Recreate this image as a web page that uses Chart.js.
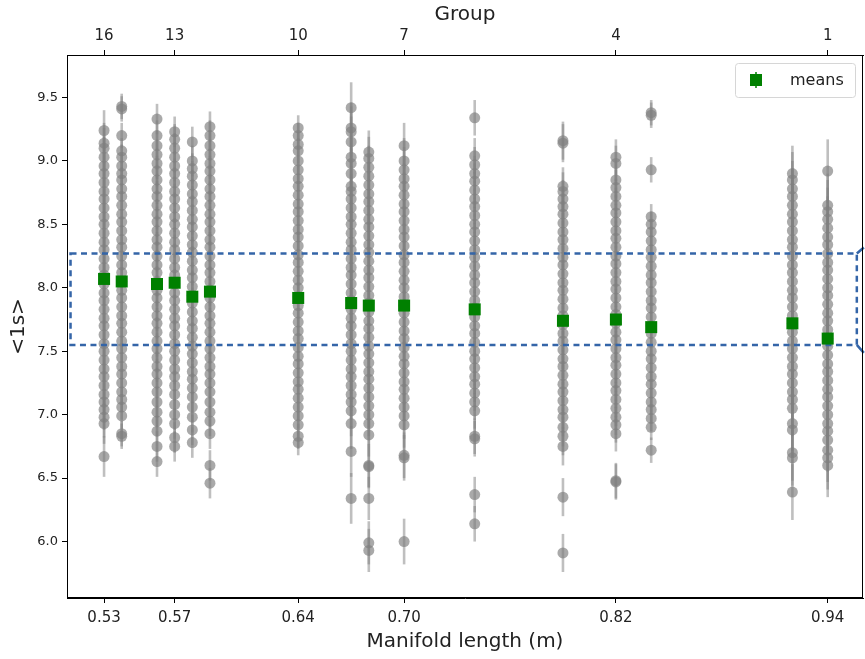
<!DOCTYPE html>
<html>
<head>
<meta charset="utf-8">
<script src="https://cdn.jsdelivr.net/npm/chart.js@4.4.0/dist/chart.umd.min.js"></script>
<style>
  html, body { margin: 0; padding: 0; background: #fff; }
  #wrap { width: 865px; height: 659px; }
</style>
</head>
<body>
<div id="wrap"><canvas id="c" width="865" height="659"></canvas></div>
<script>
// one entry per group, group 16 (shortest manifold) first
const groups  = [16, 15, 14, 13, 12, 11, 10, 9, 8, 7, 6, 5, 4, 3, 2, 1];
const lengths = [0.53, 0.54, 0.56, 0.57, 0.58, 0.59, 0.64, 0.67, 0.68, 0.70, 0.74, 0.79, 0.82, 0.84, 0.92, 0.94];
const means   = [8.07, 8.05, 8.03, 8.04, 7.93, 7.97, 7.92, 7.88, 7.86, 7.86, 7.83, 7.74, 7.75, 7.69, 7.72, 7.60];
const errs    = [0.16, 0.10, 0.12, 0.12, 0.12, 0.12, 0.10, 0.20, 0.17, 0.18, 0.14, 0.15, 0.14, 0.10, 0.22, 0.25];

// individual <1s> values per group
const g16 = [9.24, 9.14, 9.10, 9.03, 8.96, 8.90, 8.83, 8.76, 8.70, 8.63, 8.56, 8.50, 8.43, 8.36, 8.30, 8.23, 8.16, 8.10, 8.03, 7.96, 7.90, 7.83, 7.76, 7.70, 7.63, 7.56, 7.50, 7.43, 7.36, 7.30, 7.23, 7.16, 7.10, 7.04, 6.98, 6.93, 6.67];
const g15 = [9.43, 9.41, 9.20, 9.08, 9.03, 8.96, 8.90, 8.85, 8.78, 8.72, 8.65, 8.58, 8.52, 8.45, 8.38, 8.32, 8.25, 8.18, 8.12, 8.05, 7.98, 7.92, 7.85, 7.78, 7.72, 7.65, 7.58, 7.52, 7.45, 7.38, 7.32, 7.25, 7.18, 7.12, 7.06, 6.99, 6.85, 6.83];
const g14 = [9.33, 9.20, 9.12, 9.05, 8.98, 8.92, 8.85, 8.78, 8.72, 8.65, 8.58, 8.52, 8.45, 8.38, 8.32, 8.25, 8.18, 8.12, 8.05, 7.98, 7.92, 7.85, 7.78, 7.72, 7.65, 7.58, 7.52, 7.45, 7.38, 7.32, 7.25, 7.18, 7.10, 7.02, 6.95, 6.87, 6.75, 6.63];
const g13 = [9.23, 9.17, 9.10, 9.03, 8.96, 8.90, 8.83, 8.76, 8.70, 8.63, 8.56, 8.50, 8.43, 8.36, 8.30, 8.23, 8.16, 8.10, 8.03, 7.96, 7.90, 7.83, 7.76, 7.70, 7.63, 7.56, 7.50, 7.43, 7.36, 7.30, 7.23, 7.16, 7.08, 7.00, 6.93, 6.82, 6.75];
const g12 = [9.15, 9.00, 8.94, 8.88, 8.81, 8.74, 8.68, 8.61, 8.54, 8.48, 8.41, 8.34, 8.28, 8.21, 8.14, 8.08, 8.01, 7.94, 7.88, 7.81, 7.74, 7.68, 7.61, 7.54, 7.48, 7.41, 7.34, 7.28, 7.21, 7.14, 7.06, 6.98, 6.88, 6.78];
const g11 = [9.27, 9.20, 9.12, 9.05, 8.98, 8.92, 8.85, 8.78, 8.72, 8.65, 8.58, 8.52, 8.45, 8.38, 8.32, 8.25, 8.18, 8.12, 8.05, 7.98, 7.92, 7.85, 7.78, 7.72, 7.65, 7.58, 7.52, 7.45, 7.38, 7.32, 7.25, 7.18, 7.10, 7.02, 6.95, 6.85, 6.60, 6.46];
const g10 = [9.26, 9.20, 9.13, 9.08, 9.00, 8.93, 8.86, 8.80, 8.73, 8.66, 8.60, 8.53, 8.46, 8.40, 8.33, 8.26, 8.20, 8.13, 8.06, 8.00, 7.93, 7.86, 7.80, 7.73, 7.66, 7.60, 7.53, 7.46, 7.40, 7.33, 7.26, 7.20, 7.13, 7.06, 6.99, 6.92, 6.83, 6.78];
const g9  = [9.42, 9.26, 9.23, 9.15, 9.03, 8.98, 8.90, 8.80, 8.76, 8.70, 8.63, 8.56, 8.50, 8.43, 8.36, 8.30, 8.23, 8.16, 8.10, 8.03, 7.96, 7.90, 7.83, 7.76, 7.70, 7.63, 7.56, 7.50, 7.43, 7.36, 7.30, 7.23, 7.16, 7.10, 7.03, 6.93, 6.71, 6.34];
const g8  = [9.07, 9.02, 8.95, 8.88, 8.81, 8.74, 8.68, 8.61, 8.54, 8.48, 8.41, 8.34, 8.28, 8.21, 8.14, 8.08, 8.01, 7.94, 7.88, 7.81, 7.74, 7.68, 7.61, 7.54, 7.48, 7.41, 7.34, 7.28, 7.21, 7.14, 7.07, 7.00, 6.93, 6.84, 6.60, 6.59, 6.34, 5.99, 5.93];
const g7  = [9.12, 9.00, 8.93, 8.86, 8.80, 8.73, 8.66, 8.60, 8.53, 8.46, 8.40, 8.33, 8.26, 8.20, 8.13, 8.06, 8.00, 7.93, 7.86, 7.80, 7.73, 7.66, 7.60, 7.53, 7.46, 7.40, 7.33, 7.26, 7.20, 7.13, 7.06, 6.99, 6.92, 6.68, 6.66, 6.00];
const g6  = [9.34, 9.04, 8.97, 8.90, 8.84, 8.77, 8.70, 8.64, 8.57, 8.50, 8.44, 8.37, 8.30, 8.24, 8.17, 8.10, 8.04, 7.97, 7.90, 7.84, 7.77, 7.70, 7.64, 7.57, 7.50, 7.44, 7.37, 7.30, 7.24, 7.17, 7.10, 7.03, 6.83, 6.81, 6.37, 6.14];
const g5  = [9.16, 9.14, 8.80, 8.76, 8.70, 8.64, 8.58, 8.51, 8.44, 8.38, 8.31, 8.24, 8.18, 8.11, 8.04, 7.98, 7.91, 7.84, 7.78, 7.71, 7.64, 7.58, 7.51, 7.44, 7.38, 7.31, 7.24, 7.18, 7.11, 7.04, 6.98, 6.90, 6.83, 6.75, 6.35, 5.91];
const g4  = [9.03, 8.98, 8.85, 8.79, 8.72, 8.65, 8.59, 8.52, 8.45, 8.39, 8.32, 8.25, 8.19, 8.12, 8.05, 7.99, 7.92, 7.85, 7.79, 7.72, 7.65, 7.59, 7.52, 7.45, 7.39, 7.32, 7.25, 7.19, 7.12, 7.05, 6.98, 6.92, 6.85, 6.48, 6.47];
const g3  = [9.38, 9.36, 8.93, 8.56, 8.50, 8.44, 8.37, 8.30, 8.24, 8.17, 8.10, 8.04, 7.97, 7.90, 7.84, 7.77, 7.70, 7.64, 7.57, 7.50, 7.44, 7.37, 7.30, 7.24, 7.17, 7.10, 7.04, 6.97, 6.90, 6.72];
const g2  = [8.90, 8.85, 8.78, 8.72, 8.65, 8.58, 8.52, 8.45, 8.38, 8.32, 8.25, 8.18, 8.12, 8.05, 7.98, 7.92, 7.85, 7.78, 7.72, 7.65, 7.58, 7.52, 7.45, 7.38, 7.32, 7.25, 7.18, 7.12, 7.05, 6.93, 6.88, 6.70, 6.66, 6.39];
const g1  = [8.92, 8.65, 8.60, 8.54, 8.47, 8.40, 8.34, 8.27, 8.20, 8.14, 8.07, 8.00, 7.94, 7.87, 7.80, 7.74, 7.67, 7.60, 7.54, 7.47, 7.40, 7.34, 7.27, 7.20, 7.14, 7.07, 7.00, 6.93, 6.87, 6.80, 6.72, 6.66, 6.60];
const groupSamples = [g16, g15, g14, g13, g12, g11, g10, g9, g8, g7, g6, g5, g4, g3, g2, g1];

// axis ticks
const lengthTicks = [0.53, 0.57, 0.64, 0.70, 0.82, 0.94];
const groupTicks  = ['16', '13', '10', '7', '4', '1'];
const yTicks      = [6.0, 6.5, 7.0, 7.5, 8.0, 8.5, 9.0, 9.5];

// highlighted band
const bandY = [7.55, 8.27];
const bandX = [0.511, 0.9565];

const samplePoints = [];
groupSamples.forEach((vals, i) => {
    vals.forEach(v => samplePoints.push({ x: lengths[i], y: v, e: errs[i] }));
});
const meanPoints = lengths.map((l, i) => ({ x: l, y: means[i] }));

const FONT = 'DejaVu Sans';
const TXT = '#222';

const errorBars = {
    id: 'errorBars',
    beforeDatasetDraw(chart, args) {
        if (args.index !== 0) return;
        const { ctx, scales: { x, y } } = chart;
        const data = chart.data.datasets[0].data;
        ctx.save();
        ctx.strokeStyle = 'rgba(128,128,128,0.5)';
        ctx.lineWidth = 2.6;
        data.forEach(d => {
            const px = x.getPixelForValue(d.x);
            ctx.beginPath();
            ctx.moveTo(px, y.getPixelForValue(d.y - d.e));
            ctx.lineTo(px, y.getPixelForValue(d.y + d.e));
            ctx.stroke();
        });
        ctx.restore();
    },
    afterDatasetDraw(chart, args) {
        if (args.index !== 0) return;
        const { ctx, scales: { x, y } } = chart;
        const x0 = x.getPixelForValue(bandX[0]), x1 = x.getPixelForValue(bandX[1]);
        const y0 = y.getPixelForValue(bandY[1]), y1 = y.getPixelForValue(bandY[0]);
        ctx.save();
        ctx.strokeStyle = '#3465a8';
        ctx.lineWidth = 2.5;
        ctx.setLineDash([6, 4.5]);
        ctx.strokeRect(x0, y0, x1 - x0, y1 - y0);
        ctx.setLineDash([]);
        ctx.beginPath();
        ctx.moveTo(x1, y0); ctx.lineTo(x1 + 7, y0 - 6);
        ctx.moveTo(x1, y1); ctx.lineTo(x1 + 7, y1 + 8);
        ctx.stroke();
        ctx.restore();
    }
};

const frameAndLegend = {
    id: 'frameAndLegend',
    afterDraw(chart) {
        const { ctx, chartArea: a } = chart;
        ctx.save();
        ctx.strokeStyle = '#000';
        ctx.lineWidth = 1;
        ctx.strokeRect(Math.round(a.left) + 0.5, Math.round(a.top) + 0.5,
                       Math.round(a.right - a.left) - 1, Math.round(a.bottom - a.top) - 1);

        // legend box
        const bx = a.right - 128, by = a.top + 8, bw = 120, bh = 34;
        ctx.beginPath();
        ctx.roundRect(bx + 0.5, by + 0.5, bw, bh, 3);
        ctx.fillStyle = 'rgba(255,255,255,0.8)';
        ctx.fill();
        ctx.strokeStyle = '#d6d6d6';
        ctx.stroke();
        const mx = bx + 21, my = by + bh / 2;
        ctx.strokeStyle = '#008000';
        ctx.lineWidth = 1.5;
        ctx.beginPath();
        ctx.moveTo(mx, my - 8); ctx.lineTo(mx, my + 8);
        ctx.stroke();
        ctx.fillStyle = '#008000';
        ctx.fillRect(mx - 6, my - 6, 12, 12);
        ctx.fillStyle = TXT;
        ctx.font = '16px "' + FONT + '"';
        ctx.textBaseline = 'middle';
        ctx.fillText(chart.data.datasets[1].label, bx + 55, my + 1);
        ctx.restore();
    }
};

const axisGrid = { display: true, drawOnChartArea: false, drawTicks: true, tickLength: 5, color: '#000', lineWidth: 1 };
const noSidePad = s => { s.paddingLeft = 0; s.paddingRight = 0; };

new Chart(document.getElementById('c'), {
    type: 'scatter',
    data: {
        datasets: [
            {
                label: 'samples',
                data: samplePoints,
                pointRadius: 5.5,
                pointBorderWidth: 0,
                pointBackgroundColor: 'rgba(128,128,128,0.68)',
                order: 2
            },
            {
                label: 'means',
                data: meanPoints,
                pointStyle: 'rect',
                pointRadius: 8.5,
                pointBorderWidth: 0,
                pointBackgroundColor: '#008000',
                order: 1
            }
        ]
    },
    options: {
        responsive: false,
        animation: false,
        devicePixelRatio: 1,
        layout: { autoPadding: false, padding: { left: 0, right: 2, top: 0, bottom: 0 } },
        plugins: { legend: { display: false }, tooltip: { enabled: false } },
        scales: {
            x: {
                type: 'linear', position: 'bottom', min: 0.509, max: 0.96,
                afterBuildTicks: s => { s.ticks = lengthTicks.map(v => ({ value: v })); },
                afterFit: s => { s.height = 61; noSidePad(s); },
                ticks: { callback: v => v.toFixed(2), font: { family: FONT, size: 15 }, color: TXT, padding: 6, maxRotation: 0 },
                grid: axisGrid,
                border: { display: true, color: '#000' },
                title: { display: true, text: 'Manifold length (m)', font: { family: FONT, size: 20 }, color: TXT, padding: { top: 0, bottom: 5 } }
            },
            xTop: {
                type: 'linear', position: 'top', min: 0.509, max: 0.96,
                afterBuildTicks: s => { s.ticks = lengthTicks.map(v => ({ value: v })); },
                afterFit: s => { s.height = 55; noSidePad(s); },
                ticks: { callback: (v, i) => groupTicks[i], font: { family: FONT, size: 15 }, color: TXT, padding: 5, maxRotation: 0 },
                grid: axisGrid,
                border: { display: true, color: '#000' },
                title: { display: true, text: 'Group', font: { family: FONT, size: 20 }, color: TXT, padding: { top: 3, bottom: 0 } }
            },
            y: {
                type: 'linear', position: 'left', min: 5.555, max: 9.835,
                afterBuildTicks: s => { s.ticks = yTicks.map(v => ({ value: v })); },
                afterFit: s => { s.width = 67; },
                ticks: { callback: v => v.toFixed(1), font: { family: FONT, size: 13 }, color: TXT, padding: 4 },
                grid: axisGrid,
                border: { display: true, color: '#000' },
                title: { display: true, text: '<1s>', font: { family: FONT, size: 20 }, color: TXT, padding: { top: 7, bottom: 0 } }
            }
        }
    },
    plugins: [errorBars, frameAndLegend]
});
</script>
</body>
</html>
